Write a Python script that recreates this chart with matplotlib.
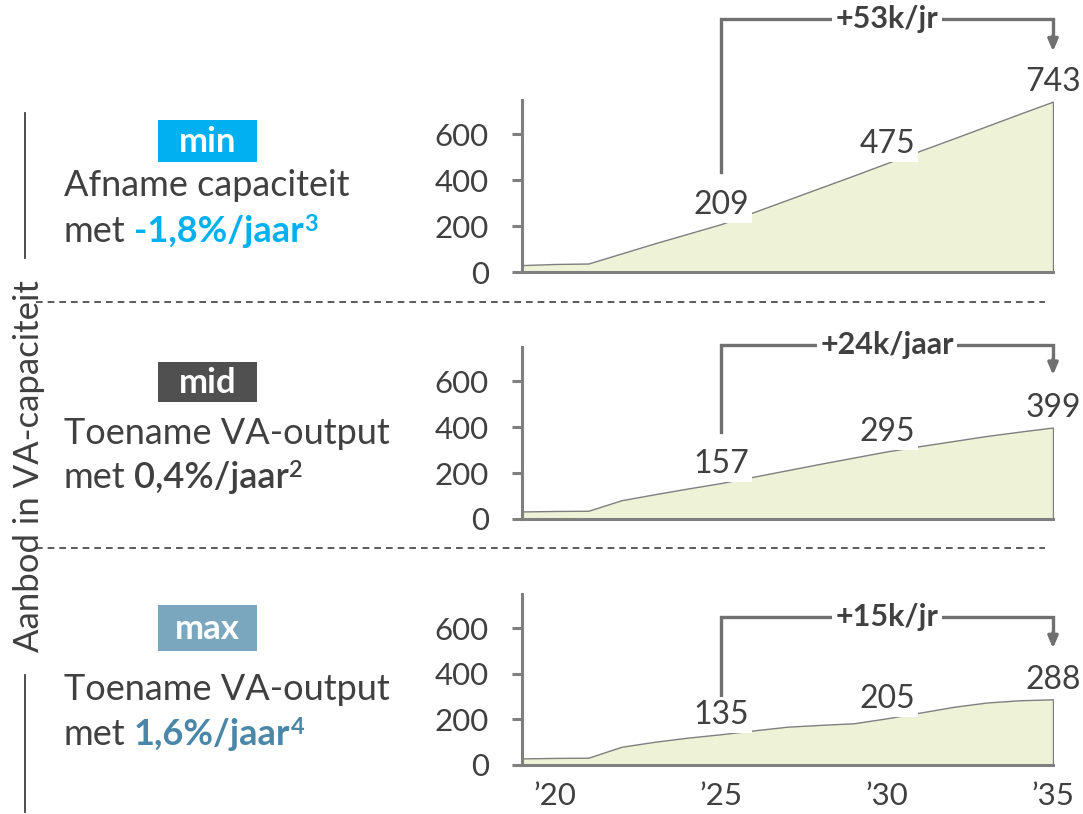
import matplotlib
matplotlib.use("Agg")
import matplotlib.pyplot as plt
from matplotlib.patches import Rectangle
from matplotlib.lines import Line2D

plt.rcParams['font.family'] = ['Lato', 'DejaVu Sans']

W, H = 1083, 814
DPI = 100

years = list(range(2019, 2036))
min_vals = [30, 35, 37, 81, 125, 167, 209, 262, 315, 368, 421, 475, 529, 582, 636, 690, 743]
mid_vals = [33, 35, 36, 82, 108, 133, 157, 185, 213, 241, 268, 295, 318, 340, 362, 381, 399]
max_vals = [29, 31, 32, 80, 102, 120, 135, 152, 168, 176, 183, 205, 230, 255, 274, 284, 288]
label_years = [2025, 2030, 2035]
growth_labels = ["+53k/jr", "+24k/jaar", "+15k/jr"]
badges = ["min", "mid", "max"]
line1 = ["Afname capaciteit", "Toename VA-output", "Toename VA-output"]
rates = ["-1,8%/jaar", "0,4%/jaar", "1,6%/jaar"]
sups = ["3", "2", "4"]
yticks = [0, 200, 400, 600]
xticks = [2020, 2025, 2030, 2035]
xticklabels = ["\u201920", "\u201925", "\u201930", "\u201935"]
ylabel = "Aanbod in VA-capaciteit"

badge_colors = ["#00B0F0", "#505050", "#7BA7BE"]
rate_colors = ["#00B0F0", "#404040", "#4A86A8"]
TXT = "#404040"
AX = "#7F7F7F"
FILL = "#EEF3D8"
FS_TICK = 22.5
FS_VAL = 23
FS_LEFT = 26
FS_BADGE = 25
FS_Y = 25
FS_BR = 22

fig = plt.figure(figsize=(W / DPI, H / DPI), dpi=DPI)
renderer = fig.canvas.get_renderer()

def fx(px):
    return px / W

def fy(py):
    return 1 - py / H

# panel geometry (pixels): left, right, top, bottom
panels = [(522, 1053, 100, 272), (522, 1053, 347, 519), (522, 1053, 594, 765)]
# bracket geometry in data units: (vertical bottom, top, arrow tip)
brackets = [(435, 1104, 962), (379, 759, 628), (298, 648, 512)]
series = [min_vals, mid_vals, max_vals]

for i, (l, r, t, b) in enumerate(panels):
    ax = fig.add_axes([fx(l), fy(b), fx(r) - fx(l), (b - t) / H])
    vals = series[i]
    ax.fill_between(years, vals, 0, facecolor=FILL, edgecolor=AX, linewidth=1.0, zorder=1)
    ax.set_xlim(2019, 2035)
    ax.set_ylim(0, 750)
    for s in ['top', 'right']:
        ax.spines[s].set_visible(False)
    for s in ['left', 'bottom']:
        ax.spines[s].set_color(AX)
        ax.spines[s].set_linewidth(2.2)
        ax.spines[s].set_zorder(3)
    ax.set_yticks(yticks)
    ax.tick_params(axis='y', length=7, width=2.2, color=AX, labelsize=FS_TICK, labelcolor=TXT, pad=17)
    ax.set_xticks(xticks)
    if i == 2:
        ax.set_xticklabels(xticklabels)
        ax.tick_params(axis='x', length=0, labelsize=FS_TICK, labelcolor=TXT, pad=12)
    else:
        ax.tick_params(axis='x', length=0, labelbottom=False)
    ax.patch.set_alpha(0)
    # value labels
    for yr in label_years:
        v = vals[years.index(yr)]
        ax.annotate(str(v), xy=(yr, v), xytext=(0, 14), textcoords='offset points',
                    ha='center', va='center', fontsize=FS_VAL, color=TXT,
                    bbox=dict(boxstyle='square,pad=0.1', fc='white', ec='none'),
                    zorder=5, annotation_clip=False)
    # bracket
    vb, top, tip = brackets[i]
    ax.add_line(Line2D([2025, 2025, 2035, 2035], [vb, top, top, tip + 60], color='#707070',
                       lw=2.4, clip_on=False, zorder=4, solid_joinstyle='miter'))
    ax.annotate('', xy=(2035, tip), xytext=(2035, tip + 70),
                arrowprops=dict(arrowstyle='-|>,head_length=0.7,head_width=0.3',
                                color='#707070', lw=2.4, shrinkA=0, shrinkB=0),
                annotation_clip=False, zorder=4)
    ax.text(2030, top, growth_labels[i], ha='center', va='center', fontsize=FS_BR,
            fontweight='bold', color=TXT, zorder=6, clip_on=False,
            bbox=dict(boxstyle='square,pad=0.12', fc='white', ec='none'))

# left text blocks
badge_y = [(120, 162), (362, 402), (605, 651)]
text_y = [(186, 232), (433, 478), (690, 735)]
for i in range(3):
    y0, y1 = badge_y[i]
    fig.add_artist(Rectangle((fx(158), fy(y1)), (257 - 158) / W, (y1 - y0) / H,
                             transform=fig.transFigure, facecolor=badge_colors[i], edgecolor='none'))
    fig.text(fx(207.5), fy((y0 + y1) / 2 + 1), badges[i], ha='center', va='center', fontsize=FS_BADGE,
             fontweight='bold', color='white')
    ya, yb = text_y[i]
    fig.text(fx(64), fy(ya), line1[i], ha='left', va='center', fontsize=FS_LEFT, color=TXT)
    # rich second line
    base = fy(yb + 10)
    t1 = fig.text(fx(64), base, "met", ha='left', va='baseline', fontsize=FS_LEFT, color=TXT)
    bb = t1.get_window_extent(renderer=renderer)
    cur = bb.x1 + 8
    wt = 'bold' if i != 1 else 'semibold'
    t2 = fig.text(cur / W, base, rates[i], ha='left', va='baseline', fontsize=FS_LEFT,
                  color=rate_colors[i], fontweight=wt)
    bb2 = t2.get_window_extent(renderer=renderer)
    fig.text((bb2.x1 + 1) / W, base + 11 / H, sups[i], ha='left', va='baseline',
             fontsize=FS_LEFT * 0.65, color=rate_colors[i], fontweight=wt)

# separators
for yy in [302, 548]:
    fig.add_artist(Line2D([fx(36), fx(1045)], [fy(yy), fy(yy)], transform=fig.transFigure,
                          color=TXT, lw=1.2, linestyle=(0, (4, 3))))

# vertical axis title
fig.text(fx(29), fy(466), ylabel, rotation=90, ha='center', va='center', fontsize=FS_Y, color=TXT)
fig.add_artist(Line2D([fx(25), fx(25)], [fy(113), fy(258)], transform=fig.transFigure, color=TXT, lw=1.3))
fig.add_artist(Line2D([fx(25), fx(25)], [fy(675), fy(812)], transform=fig.transFigure, color=TXT, lw=1.3))

fig.savefig("out.png", dpi=DPI)
